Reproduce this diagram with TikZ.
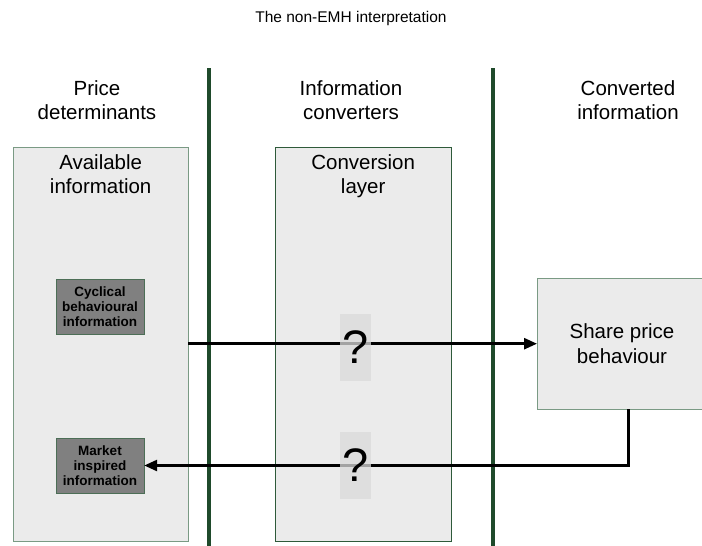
\documentclass[tikz,border=0pt]{standalone}
\usepackage{fontspec}
\setmainfont{Liberation Sans}
\usetikzlibrary{arrows.meta,positioning}
\definecolor{bargreen}{HTML}{1F4A2B}
\definecolor{panelfill}{HTML}{EBEBEB}
\definecolor{paneledge}{HTML}{7A9A84}
\definecolor{layeredge}{HTML}{2E5A3A}
\definecolor{infofill}{HTML}{808080}
\definecolor{infoedge}{HTML}{4C6E56}
\definecolor{askfill}{HTML}{DADADA}
\tikzset{
  headtext/.style={align=center, font=\fontsize{20.5}{24.5}\selectfont},
  panelbox/.style={draw=paneledge, fill=panelfill, anchor=north west, inner sep=0pt},
  infobox/.style={draw=infoedge, fill=infofill, align=center, inner sep=0pt,
    minimum width=88pt, minimum height=55pt, font=\bfseries\fontsize{13.5}{15}\selectfont},
  askbox/.style={fill=askfill, fill opacity=0.75, text opacity=1, inner sep=0pt,
    minimum width=31pt, minimum height=67pt, font=\fontsize{47}{47}\selectfont},
  divider/.style={bargreen, line width=3.5pt},
  flowarrow/.style={-{Triangle[length=13pt,width=11pt]}, line width=2.6pt}
}

\begin{document}
\begin{tikzpicture}[x=1pt, y=-1pt]
  \useasboundingbox (0,0) rectangle (702,546);
  \node[font=\fontsize{15.5}{18}\selectfont] (title) at (351,18) {The non-EMH interpretation};
  % column headers and dividers
  \draw[divider] (209,68) -- (209,550);
  \draw[divider] (493,68) -- (493,550);
  \node[headtext] (colprice) at (97,100) {Price\\determinants};
  \node[headtext] (colconv) at (351,100) {Information\\converters};
  \node[headtext] (colout) at (628,100) {Converted\\information};
  % panels
  \node[panelbox, minimum width=175pt, minimum height=394pt] (avail) at (13,147) {};
  \node[panelbox, draw=layeredge, minimum width=176pt, minimum height=394pt] (layer) at (275,147) {};
  \node[headtext, below=4pt of avail.north] (availtxt) {Available\\information};
  \node[headtext, below=4pt of layer.north] (layertxt) {Conversion\\layer};
  \node[infobox] (cyclical) at (100,306.5) {Cyclical\\behavioural\\information};
  \node[infobox] (market) at (100,465.5) {Market\\inspired\\information};
  \node[panelbox, minimum width=170pt, minimum height=131pt] (share) at (537,278) {};
  \node[headtext] (sharetxt) at (622,343.5) {Share price\\behaviour};
  % flows
  \draw[flowarrow] (share.west -| avail.east) -- (share.west);
  \draw[flowarrow] ([xshift=6.5pt]share.south) |- (market.east);
  \node[askbox] (askout) at (355.5,347.5) {?};
  \node[askbox] (askback) at (355.5,465.5) {?};
\end{tikzpicture}
\end{document}
